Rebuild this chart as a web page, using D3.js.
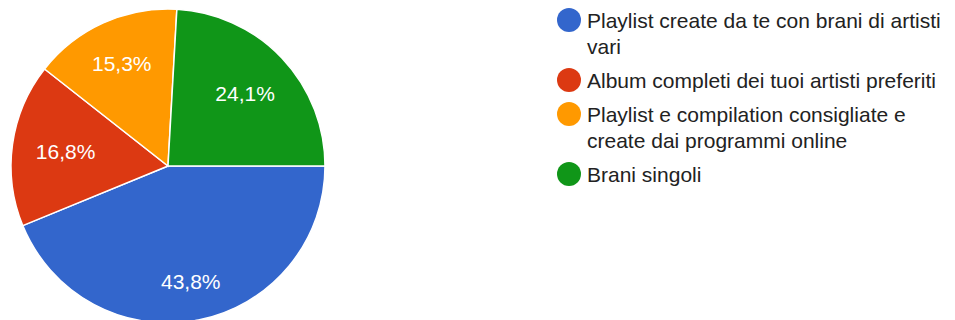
<!DOCTYPE html>
<html>
<head>
<meta charset="utf-8">
<script src="https://cdn.jsdelivr.net/npm/d3@7"></script>
<style>
  html, body { margin: 0; padding: 0; background: #fff; }
  svg { display: block; font-family: Arial, "Liberation Sans", Helvetica, sans-serif; }
</style>
</head>
<body>
<div class="pie"></div>
<script>
// chart values
var categories = [
    "Playlist create da te con brani di artisti vari",
    "Album completi dei tuoi artisti preferiti",
    "Playlist e compilation consigliate e create dai programmi online",
    "Brani singoli"
];
var values = [43.8, 16.8, 15.3, 24.1];
var colors = ["#3366cc", "#dc3912", "#ff9900", "#109618"];

var width = 955,
    height = 320;

// geometry of pie
var cx = 168,
    cy = 166,
    radius = 157,
    labelReach = 134,   // farthest corner of a label box from centre
    fontSize = 21;

// legend geometry
var legendX = 569,
    legendTextX = 587,
    legendTop = 28,
    lineHeight = 26,
    itemGap = 8,
    legendMaxWidth = 365;

var locale = d3.formatLocale({decimal: ",", thousands: ".", grouping: [3], currency: ["", "€"]});
var fmt = locale.format(".1f");

var svg = d3.select("div.pie").append("svg")
    .attr("width", width)
    .attr("height", height);

var pie = d3.pie()
    .sort(null)
    .startAngle(Math.PI / 2)
    .endAngle(Math.PI / 2 + 2 * Math.PI)
    .value(function(d) { return d; });

var arc = d3.arc()
    .innerRadius(0)
    .outerRadius(radius);

var arcs = pie(values);

var g = svg.append("g")
    .attr("transform", "translate(" + cx + "," + cy + ")");

g.selectAll("path.slice")
    .data(arcs)
    .enter().append("path")
    .attr("class", "slice")
    .attr("d", arc)
    .attr("fill", function(d, i) { return colors[i]; })
    .attr("stroke", "#fff")
    .attr("stroke-width", 1.5);

// labels: put the box so its outer corner sits at labelReach
var labels = g.selectAll("text.label")
    .data(arcs)
    .enter().append("text")
    .attr("class", "label")
    .style("font-size", fontSize + "px")
    .attr("fill", "#fff")
    .attr("text-anchor", "middle")
    .text(function(d) { return fmt(d.value) + "%"; });

labels.each(function(d) {
    var w = this.getComputedTextLength(),
        h = fontSize * 0.76;
    var a = (d.startAngle + d.endAngle) / 2;
    var ux = Math.sin(a), uy = -Math.cos(a);
    var sx = (ux >= 0 ? 1 : -1) * w / 2,
        sy = (uy >= 0 ? 1 : -1) * h / 2;
    var us = ux * sx + uy * sy,
        ss = sx * sx + sy * sy;
    var dist = -us + Math.sqrt(us * us - ss + labelReach * labelReach);
    d3.select(this)
        .attr("x", ux * dist)
        .attr("y", uy * dist + fontSize * 0.36);
});

// legend
var legend = svg.append("g").attr("class", "legend");
var y = legendTop;

categories.forEach(function(name, i) {
    legend.append("circle")
        .attr("cx", legendX)
        .attr("cy", y - 8)
        .attr("r", 12)
        .attr("fill", colors[i]);

    var t = legend.append("text")
        .attr("x", legendTextX)
        .attr("y", y)
        .style("font-size", fontSize + "px")
        .attr("fill", "#222");

    // greedy word wrap
    var words = name.split(" "),
        line = [],
        tspan = t.append("tspan").attr("x", legendTextX).attr("y", y),
        lines = 1;
    words.forEach(function(word) {
        line.push(word);
        tspan.text(line.join(" "));
        if (tspan.node().getComputedTextLength() > legendMaxWidth && line.length > 1) {
            line.pop();
            tspan.text(line.join(" "));
            line = [word];
            tspan = t.append("tspan")
                .attr("x", legendTextX)
                .attr("y", y + lines * lineHeight)
                .text(word);
            lines++;
        }
    });

    y += lines * lineHeight + itemGap;
});
</script>
</body>
</html>
